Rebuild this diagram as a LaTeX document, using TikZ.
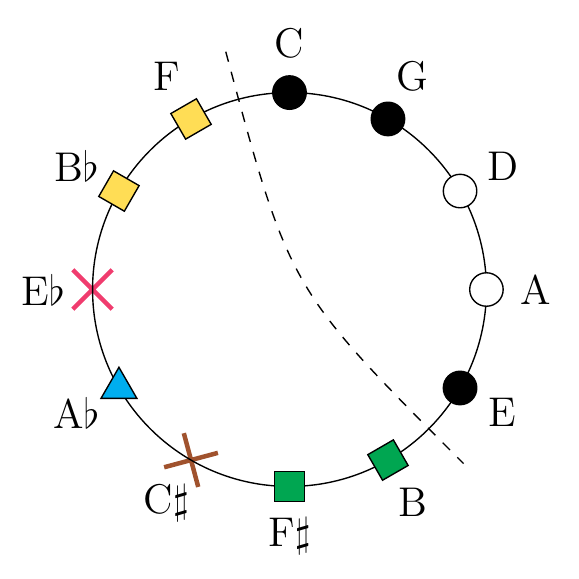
\documentclass[tikz,border=0pt]{standalone}
\usepackage{amsmath}
\usepackage{amssymb}
\usepackage{xcolor}
\usetikzlibrary{shapes.geometric,shapes.misc}

\definecolor{keyyellow}{RGB}{255,221,85}
\definecolor{keygreen}{RGB}{0,166,81}
\definecolor{keycyan}{RGB}{0,174,239}
\definecolor{keypink}{RGB}{240,60,110}
\definecolor{keybrown}{RGB}{160,82,45}

\begin{document}
\begin{tikzpicture}[
  bdot/.style={circle,draw,fill=black,inner sep=0pt,minimum size=0.34cm},  wdot/.style={circle,draw,fill=white,inner sep=0pt,minimum size=0.34cm},  sqbox/.style={rectangle,draw,inner sep=0pt,minimum size=0.3cm},  tri/.style={regular polygon,regular polygon sides=3,draw,fill=keycyan,inner sep=0pt,minimum size=0.42cm},  xmark/.style={cross out,draw,line width=1.3pt,inner sep=0pt,minimum size=0.354cm},  lbl/.style={inner sep=0pt,font=\large}
]
  \useasboundingbox (-2.94,-2.94) rectangle (2.94,2.94);
  \node[xmark,draw=keypink,rotate=180] (eb) at (180:2) {};
  \node[xmark,draw=keybrown,rotate=-120] (cs) at (-120:2) {};
  \draw (0,0) circle (2);
  \coordinate (top) at (105:2.5);
  \coordinate (mid) at (0,0);
  \coordinate (bot) at (-45:2.5);
  \draw[dashed] (top) .. controls (mid) .. (bot);
  \node[bdot] (c) at (90:2) {};
  \node[bdot] (g) at (60:2) {};
  \node[wdot] (d) at (30:2) {};
  \node[wdot] (a) at (0:2) {};
  \node[bdot] (e) at (-30:2) {};
  \node[sqbox,fill=keygreen,rotate=-60] (b) at (-60:2) {};
  \node[sqbox,fill=keygreen] (fs) at (-90:2) {};
  \node[tri] (ab) at (-150:2) {};
  \node[sqbox,fill=keyyellow,rotate=150] (bb) at (150:2) {};
  \node[sqbox,fill=keyyellow,rotate=120] (f) at (120:2) {};
  \node[lbl] (lc) at (90:2.5) {C};
  \node[lbl] (lg) at (60:2.5) {G};
  \node[lbl] (ld) at (30:2.5) {D};
  \node[lbl] (la) at (0:2.5) {A};
  \node[lbl] (le) at (-30:2.5) {E};
  \node[lbl] (lb) at (-60:2.5) {B};
  \node[lbl] (lfs) at (-90:2.5) {F$\sharp$};
  \node[lbl] (lcs) at (-120:2.5) {C$\sharp$};
  \node[lbl] (lab) at (-150:2.5) {A$\flat$};
  \node[lbl] (leb) at (180:2.5) {E$\flat$};
  \node[lbl] (lbb) at (150:2.5) {B$\flat$};
  \node[lbl] (lf) at (120:2.5) {F};
\end{tikzpicture}
\end{document}
